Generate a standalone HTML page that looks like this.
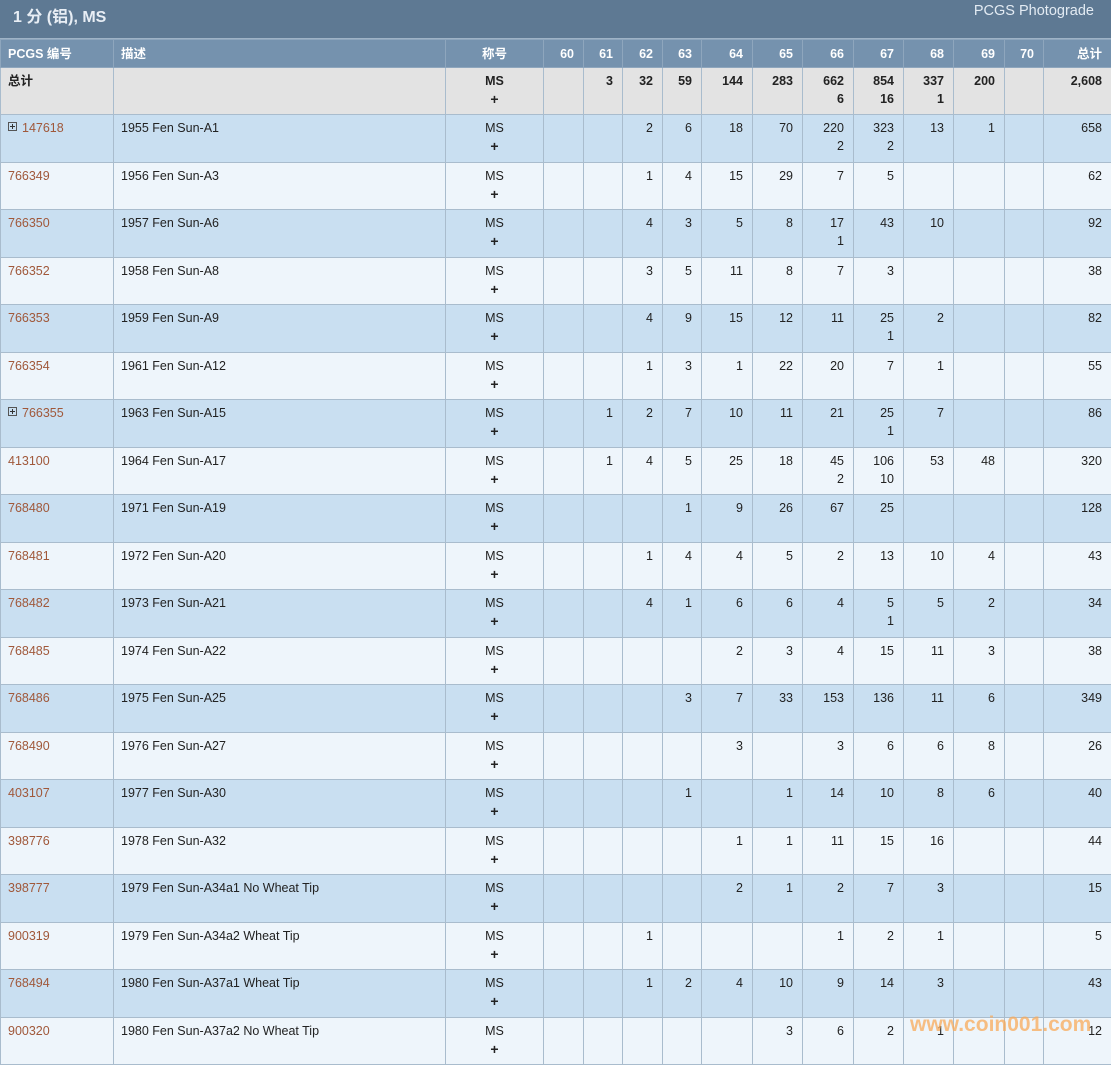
<!DOCTYPE html>
<html><head><meta charset="utf-8"><style>
*{margin:0;padding:0;box-sizing:border-box}
body{width:1111px;height:1058px;overflow:hidden;background:#eef5fb;font-family:"Liberation Sans","Noto Sans CJK SC",sans-serif;font-size:12.5px;color:#222}
.title{height:39px;background:#5e7993;position:relative;border-bottom:1px solid #9fb3c6}
.title .l{position:absolute;left:13px;top:3px;font-size:16px;font-weight:bold;color:#e8eef5}
.title .r{position:absolute;right:17px;top:3px;font-size:14.5px;color:#e3ebf3}
table{border-collapse:collapse;table-layout:fixed;width:1111px}
td,th{border:1px solid #a9bccd;vertical-align:top;line-height:18px;padding:4px 9px 0 7px;text-align:right;white-space:nowrap;overflow:hidden}
th{background:#7592ae;color:#fff;font-weight:bold;height:28px;padding-top:5px;border-color:#8ea6bd}
td.l,th.l{text-align:left}
td.c,th.c{text-align:center;padding-left:0;padding-right:0}
tr.t td{background:#e3e3e3;font-weight:bold;height:47px}
tr.b td{background:#c9dff1;height:48px}
tr.w td{background:#eef5fb;height:47px}
a{color:#a0583a;text-decoration:none}
.p{display:inline-block;width:9px;height:9px;border:1px solid #555;position:relative;margin-right:5px;top:-1px}
.p:before{content:"";position:absolute;left:1px;top:3px;width:5px;height:1px;background:#333}
.p:after{content:"";position:absolute;left:3px;top:1px;width:1px;height:5px;background:#333}
.pl{font-weight:bold;font-size:14px}
.wm{position:absolute;left:910px;top:1013px;font-size:21px;font-weight:bold;color:rgba(248,170,90,0.75)}
</style></head><body>
<div class="title"><span class="l">1 分 (铝), MS</span><span class="r">PCGS Photograde</span></div>
<table>
<colgroup><col style="width:113px"><col style="width:332px"><col style="width:98px"><col style="width:40px"><col style="width:39px"><col style="width:40px"><col style="width:39px"><col style="width:51px"><col style="width:50px"><col style="width:51px"><col style="width:50px"><col style="width:50px"><col style="width:51px"><col style="width:39px"><col style="width:68px"></colgroup>
<tr><th class="l">PCGS 编号</th><th class="l">描述</th><th class="c">称号</th><th>60</th><th>61</th><th>62</th><th>63</th><th>64</th><th>65</th><th>66</th><th>67</th><th>68</th><th>69</th><th>70</th><th>总计</th></tr>
<tr class="t"><td class="l">总计</td><td></td><td class="c">MS<br><span class="pl">+</span></td><td></td><td>3</td><td>32</td><td>59</td><td>144</td><td>283</td><td>662<br>6</td><td>854<br>16</td><td>337<br>1</td><td>200</td><td></td><td>2,608</td></tr>
<tr class="b"><td class="l"><span class="p"></span><a>147618</a></td><td class="l">1955 Fen Sun-A1</td><td class="c">MS<br><span class="pl">+</span></td><td></td><td></td><td>2</td><td>6</td><td>18</td><td>70</td><td>220<br>2</td><td>323<br>2</td><td>13</td><td>1</td><td></td><td>658</td></tr>
<tr class="w"><td class="l"><a>766349</a></td><td class="l">1956 Fen Sun-A3</td><td class="c">MS<br><span class="pl">+</span></td><td></td><td></td><td>1</td><td>4</td><td>15</td><td>29</td><td>7</td><td>5</td><td></td><td></td><td></td><td>62</td></tr>
<tr class="b"><td class="l"><a>766350</a></td><td class="l">1957 Fen Sun-A6</td><td class="c">MS<br><span class="pl">+</span></td><td></td><td></td><td>4</td><td>3</td><td>5</td><td>8</td><td>17<br>1</td><td>43</td><td>10</td><td></td><td></td><td>92</td></tr>
<tr class="w"><td class="l"><a>766352</a></td><td class="l">1958 Fen Sun-A8</td><td class="c">MS<br><span class="pl">+</span></td><td></td><td></td><td>3</td><td>5</td><td>11</td><td>8</td><td>7</td><td>3</td><td></td><td></td><td></td><td>38</td></tr>
<tr class="b"><td class="l"><a>766353</a></td><td class="l">1959 Fen Sun-A9</td><td class="c">MS<br><span class="pl">+</span></td><td></td><td></td><td>4</td><td>9</td><td>15</td><td>12</td><td>11</td><td>25<br>1</td><td>2</td><td></td><td></td><td>82</td></tr>
<tr class="w"><td class="l"><a>766354</a></td><td class="l">1961 Fen Sun-A12</td><td class="c">MS<br><span class="pl">+</span></td><td></td><td></td><td>1</td><td>3</td><td>1</td><td>22</td><td>20</td><td>7</td><td>1</td><td></td><td></td><td>55</td></tr>
<tr class="b"><td class="l"><span class="p"></span><a>766355</a></td><td class="l">1963 Fen Sun-A15</td><td class="c">MS<br><span class="pl">+</span></td><td></td><td>1</td><td>2</td><td>7</td><td>10</td><td>11</td><td>21</td><td>25<br>1</td><td>7</td><td></td><td></td><td>86</td></tr>
<tr class="w"><td class="l"><a>413100</a></td><td class="l">1964 Fen Sun-A17</td><td class="c">MS<br><span class="pl">+</span></td><td></td><td>1</td><td>4</td><td>5</td><td>25</td><td>18</td><td>45<br>2</td><td>106<br>10</td><td>53</td><td>48</td><td></td><td>320</td></tr>
<tr class="b"><td class="l"><a>768480</a></td><td class="l">1971 Fen Sun-A19</td><td class="c">MS<br><span class="pl">+</span></td><td></td><td></td><td></td><td>1</td><td>9</td><td>26</td><td>67</td><td>25</td><td></td><td></td><td></td><td>128</td></tr>
<tr class="w"><td class="l"><a>768481</a></td><td class="l">1972 Fen Sun-A20</td><td class="c">MS<br><span class="pl">+</span></td><td></td><td></td><td>1</td><td>4</td><td>4</td><td>5</td><td>2</td><td>13</td><td>10</td><td>4</td><td></td><td>43</td></tr>
<tr class="b"><td class="l"><a>768482</a></td><td class="l">1973 Fen Sun-A21</td><td class="c">MS<br><span class="pl">+</span></td><td></td><td></td><td>4</td><td>1</td><td>6</td><td>6</td><td>4</td><td>5<br>1</td><td>5</td><td>2</td><td></td><td>34</td></tr>
<tr class="w"><td class="l"><a>768485</a></td><td class="l">1974 Fen Sun-A22</td><td class="c">MS<br><span class="pl">+</span></td><td></td><td></td><td></td><td></td><td>2</td><td>3</td><td>4</td><td>15</td><td>11</td><td>3</td><td></td><td>38</td></tr>
<tr class="b"><td class="l"><a>768486</a></td><td class="l">1975 Fen Sun-A25</td><td class="c">MS<br><span class="pl">+</span></td><td></td><td></td><td></td><td>3</td><td>7</td><td>33</td><td>153</td><td>136</td><td>11</td><td>6</td><td></td><td>349</td></tr>
<tr class="w"><td class="l"><a>768490</a></td><td class="l">1976 Fen Sun-A27</td><td class="c">MS<br><span class="pl">+</span></td><td></td><td></td><td></td><td></td><td>3</td><td></td><td>3</td><td>6</td><td>6</td><td>8</td><td></td><td>26</td></tr>
<tr class="b"><td class="l"><a>403107</a></td><td class="l">1977 Fen Sun-A30</td><td class="c">MS<br><span class="pl">+</span></td><td></td><td></td><td></td><td>1</td><td></td><td>1</td><td>14</td><td>10</td><td>8</td><td>6</td><td></td><td>40</td></tr>
<tr class="w"><td class="l"><a>398776</a></td><td class="l">1978 Fen Sun-A32</td><td class="c">MS<br><span class="pl">+</span></td><td></td><td></td><td></td><td></td><td>1</td><td>1</td><td>11</td><td>15</td><td>16</td><td></td><td></td><td>44</td></tr>
<tr class="b"><td class="l"><a>398777</a></td><td class="l">1979 Fen Sun-A34a1 No Wheat Tip</td><td class="c">MS<br><span class="pl">+</span></td><td></td><td></td><td></td><td></td><td>2</td><td>1</td><td>2</td><td>7</td><td>3</td><td></td><td></td><td>15</td></tr>
<tr class="w"><td class="l"><a>900319</a></td><td class="l">1979 Fen Sun-A34a2 Wheat Tip</td><td class="c">MS<br><span class="pl">+</span></td><td></td><td></td><td>1</td><td></td><td></td><td></td><td>1</td><td>2</td><td>1</td><td></td><td></td><td>5</td></tr>
<tr class="b"><td class="l"><a>768494</a></td><td class="l">1980 Fen Sun-A37a1 Wheat Tip</td><td class="c">MS<br><span class="pl">+</span></td><td></td><td></td><td>1</td><td>2</td><td>4</td><td>10</td><td>9</td><td>14</td><td>3</td><td></td><td></td><td>43</td></tr>
<tr class="w"><td class="l"><a>900320</a></td><td class="l">1980 Fen Sun-A37a2 No Wheat Tip</td><td class="c">MS<br><span class="pl">+</span></td><td></td><td></td><td></td><td></td><td></td><td>3</td><td>6</td><td>2</td><td>1</td><td></td><td></td><td>12</td></tr>
</table>
<div class="wm">www.coin001.com</div>
</body></html>
